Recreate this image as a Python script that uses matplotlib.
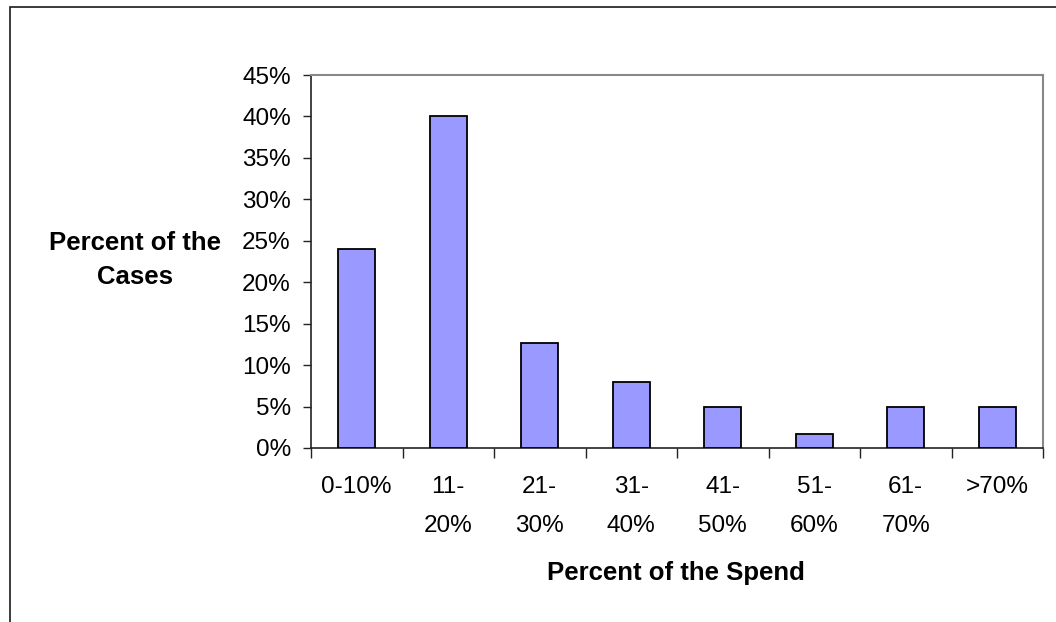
import matplotlib
matplotlib.use("Agg")
import matplotlib.pyplot as plt
from matplotlib.patches import Rectangle
from matplotlib.ticker import FixedLocator, FuncFormatter

plt.rcParams['font.family'] = ['Liberation Sans', 'DejaVu Sans']

categories = ["0-10%", "11-\n20%", "21-\n30%", "31-\n40%", "41-\n50%", "51-\n60%", "61-\n70%", ">70%"]
values = [24.0, 40.0, 12.7, 8.0, 5.0, 1.7, 5.0, 5.0]
yticks = [0, 5, 10, 15, 20, 25, 30, 35, 40, 45]
xlabel = "Percent of the Spend"
ylabel = "Percent of the\nCases"

W, H = 1056, 622
fig = plt.figure(figsize=(W / 100, H / 100), dpi=100)
fig.patch.set_facecolor('white')

# outer chart frame (cut off at right/bottom)
fig.patches.append(Rectangle((10 / W, -0.1), 1.2, 1 - 7 / H + 0.1, transform=fig.transFigure,
                             fill=False, edgecolor='#1a1a1a', linewidth=1.2, zorder=0))

ax = fig.add_axes([311 / W, 1 - 448 / H, (1043 - 311) / W, (448 - 75) / H])
x = list(range(len(categories)))
ax.bar(x, values, width=0.4, color='#9999FF', edgecolor='black', linewidth=1.3, zorder=3)

ax.set_xlim(-0.5, len(categories) - 0.5)
ax.set_ylim(0, 45)
ax.set_yticks(yticks)
ax.yaxis.set_major_formatter(FuncFormatter(lambda v, p: f"{v:.0f}%"))
ax.tick_params(axis='y', direction='out', length=6, width=1, color='#222222',
               labelsize=17.5, pad=8.5)

ax.set_xticks(x)
ax.set_xticklabels(categories, linespacing=2.0)
ax.xaxis.set_minor_locator(FixedLocator([i - 0.5 for i in range(len(categories) + 1)]))
ax.tick_params(axis='x', which='major', length=0, labelsize=17.5, pad=20)
ax.tick_params(axis='x', which='minor', direction='out', length=7, width=1, color='#222222')

for s in ['left', 'bottom']:
    ax.spines[s].set_color('#222222')
    ax.spines[s].set_linewidth(1.2)
for s in ['top', 'right']:
    ax.spines[s].set_color('#888888')
    ax.spines[s].set_linewidth(1.5)

fig.text(676 / W, 1 - 573 / H, xlabel, ha='center', va='center', fontsize=18.5, fontweight='bold')
fig.text(135 / W, 1 - 260 / H, ylabel, ha='center', va='center', fontsize=18.5,
         fontweight='bold', linespacing=1.5, multialignment='center')

fig.savefig("out.png", dpi=100)
